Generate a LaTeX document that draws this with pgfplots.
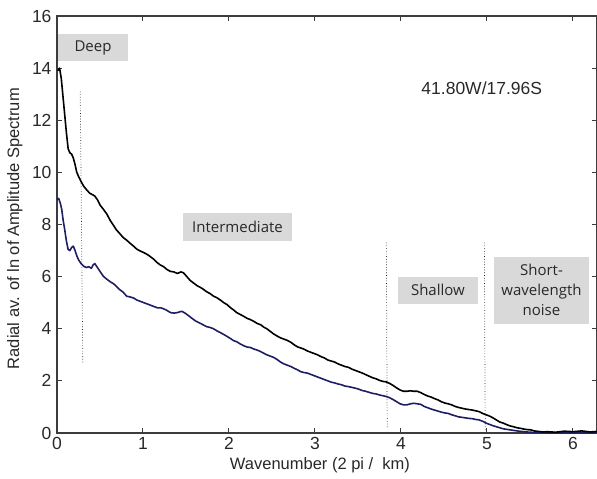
\documentclass[border=0pt]{standalone}
\usepackage{fontspec}
\setmainfont{Liberation Sans}
\newfontfamily\boxfont{Open Sans}
\usepackage{pgfplots}
\pgfplotsset{compat=1.18}
\definecolor{navyline}{RGB}{30,30,100}
\definecolor{boxgray}{RGB}{217,217,217}
\definecolor{axgray}{RGB}{60,60,60}
\definecolor{txtgray}{RGB}{40,40,40}
\begin{document}
\begin{tikzpicture}
\useasboundingbox (-57pt,-46pt) rectangle (540pt,433pt);
\begin{axis}[
  scale only axis,
  width=540pt, height=417pt,
  at={(0pt,0pt)}, anchor=south west,
  xmin=0, xmax=6.28, ymin=0, ymax=16,
  xtick={0,1,2,3,4,5,6},
  ytick={0,2,4,6,8,10,12,14,16},
  tick align=inside,
  major tick length=5pt,
  axis line style={axgray, line width=1.1pt},
  tick style={axgray, line width=1pt},
  /pgf/number format/assume math mode=true,
  tick label style={font=\fontsize{17.5}{20}\selectfont, text=txtgray},
  xticklabel style={yshift=-1pt},
  yticklabel style={xshift=-2pt},
  xlabel={Wavenumber (2 pi /\ \ km)},
  ylabel={Radial av. of ln of Amplitude Spectrum},
  label style={font=\fontsize{16.5}{19}\selectfont, text=txtgray},
  xlabel style={at={(axis description cs:0.487,0)}, anchor=center, yshift=-32pt},
  ylabel style={at={(axis description cs:-0.078,0.49)}, anchor=center},
  clip=false,
]
% dotted dividers
\addplot[dotted, black!85, line width=0.7pt] coordinates {(0.27,13.1) (0.30,2.7)};
\addplot[dotted, black!85, line width=0.7pt] coordinates {(3.83,7.3) (3.84,0.23)};
\addplot[dotted, black!85, line width=0.7pt] coordinates {(4.97,7.3) (4.98,0.1)};
% blue (lower) curve
\addplot[navyline, line width=1.6pt, line join=round] coordinates {
(0.00,8.96)(0.02,9.0)(0.04,8.8)(0.055,8.58)(0.07,8.2)(0.09,7.8)(0.11,7.35)(0.13,7.04)
(0.15,7.0)(0.17,7.12)(0.19,7.17)(0.21,7.0)(0.23,6.8)(0.25,6.65)(0.28,6.5)(0.31,6.4)
(0.34,6.35)(0.37,6.38)(0.40,6.32)(0.42,6.45)(0.44,6.5)(0.47,6.35)(0.50,6.2)(0.54,6.01)
(0.58,5.9)(0.62,5.8)(0.66,5.72)(0.69,5.63)(0.73,5.5)(0.77,5.4)(0.81,5.25)(0.85,5.22)
(0.89,5.18)(0.93,5.1)(0.97,5.05)(1.01,5.0)(1.05,4.95)(1.09,4.9)(1.13,4.85)(1.17,4.8)
(1.21,4.8)(1.25,4.75)(1.28,4.7)(1.32,4.62)(1.36,4.6)(1.40,4.62)(1.45,4.67)(1.49,4.6)
(1.53,4.5)(1.57,4.4)(1.61,4.3)(1.66,4.22)(1.70,4.15)(1.74,4.08)(1.78,4.05)(1.82,4.0)
(1.86,3.92)(1.90,3.85)(1.94,3.78)(1.98,3.7)(2.02,3.62)(2.05,3.55)(2.09,3.5)(2.13,3.42)
(2.17,3.35)(2.21,3.3)(2.25,3.28)(2.29,3.22)(2.33,3.18)(2.37,3.12)(2.41,3.05)(2.44,3.0)
(2.48,2.95)(2.52,2.9)(2.56,2.82)(2.60,2.72)(2.64,2.65)(2.68,2.6)(2.72,2.55)(2.76,2.48)
(2.80,2.42)(2.83,2.36)(2.87,2.32)(2.91,2.3)(2.95,2.25)(2.99,2.2)(3.03,2.15)(3.07,2.1)
(3.11,2.05)(3.15,2.0)(3.19,1.95)(3.23,1.92)(3.27,1.88)(3.31,1.85)(3.35,1.8)(3.39,1.78)
(3.43,1.75)(3.47,1.72)(3.51,1.68)(3.55,1.63)(3.59,1.6)(3.63,1.56)(3.67,1.52)(3.71,1.5)
(3.75,1.46)(3.79,1.43)(3.83,1.4)(3.87,1.35)(3.91,1.28)(3.95,1.2)(3.99,1.12)(4.03,1.08)
(4.07,1.08)(4.11,1.12)(4.15,1.14)(4.19,1.12)(4.23,1.1)(4.27,1.02)(4.31,0.97)(4.35,0.92)
(4.39,0.88)(4.43,0.84)(4.47,0.8)(4.51,0.77)(4.55,0.75)(4.59,0.7)(4.63,0.66)(4.67,0.62)
(4.71,0.6)(4.75,0.58)(4.79,0.56)(4.83,0.55)(4.87,0.52)(4.91,0.5)(4.95,0.45)(4.99,0.38)
(5.03,0.33)(5.07,0.28)(5.11,0.24)(5.15,0.2)(5.19,0.16)(5.23,0.14)(5.27,0.12)(5.31,0.1)
(5.35,0.08)(5.40,0.06)(5.46,0.04)(5.55,0.02)(5.70,0.01)(6.28,0.01)
};
% black (upper) curve
\addplot[black, line width=1.6pt, line join=round] coordinates {
(0.01,13.9)(0.03,14.0)(0.05,13.6)(0.07,12.9)(0.09,12.2)(0.11,11.5)(0.13,10.9)(0.15,10.75)
(0.17,10.7)(0.19,10.55)(0.21,10.3)(0.23,10.0)(0.25,9.85)(0.28,9.65)(0.31,9.47)(0.34,9.35)
(0.38,9.2)(0.41,9.15)(0.44,9.09)(0.47,8.95)(0.50,8.75)(0.54,8.58)(0.58,8.4)(0.62,8.15)
(0.66,7.95)(0.69,7.8)(0.73,7.65)(0.77,7.5)(0.81,7.4)(0.85,7.28)(0.89,7.17)(0.93,7.05)
(0.97,6.98)(1.01,6.92)(1.05,6.85)(1.08,6.78)(1.12,6.68)(1.16,6.55)(1.20,6.45)(1.24,6.38)
(1.28,6.27)(1.32,6.2)(1.36,6.18)(1.40,6.12)(1.44,6.18)(1.47,6.15)(1.51,6.0)(1.55,5.85)
(1.59,5.75)(1.63,5.65)(1.66,5.6)(1.70,5.52)(1.74,5.42)(1.78,5.35)(1.82,5.25)(1.86,5.19)
(1.90,5.1)(1.94,5.0)(1.98,4.92)(2.02,4.8)(2.05,4.73)(2.09,4.62)(2.13,4.55)(2.17,4.48)
(2.21,4.4)(2.25,4.35)(2.29,4.28)(2.33,4.2)(2.37,4.15)(2.41,4.05)(2.44,4.0)(2.48,3.9)
(2.52,3.8)(2.56,3.72)(2.60,3.65)(2.64,3.6)(2.68,3.55)(2.72,3.48)(2.76,3.38)(2.80,3.3)
(2.83,3.27)(2.87,3.22)(2.91,3.15)(2.95,3.1)(2.99,3.05)(3.03,3.0)(3.07,2.93)(3.11,2.88)
(3.15,2.8)(3.19,2.76)(3.23,2.72)(3.27,2.65)(3.31,2.6)(3.35,2.55)(3.39,2.52)(3.43,2.45)
(3.47,2.4)(3.51,2.35)(3.55,2.3)(3.59,2.24)(3.63,2.18)(3.67,2.12)(3.71,2.08)(3.75,2.02)
(3.79,1.98)(3.83,1.96)(3.87,1.9)(3.91,1.82)(3.95,1.73)(3.99,1.65)(4.03,1.6)(4.07,1.6)
(4.11,1.62)(4.15,1.6)(4.19,1.6)(4.23,1.55)(4.27,1.48)(4.31,1.42)(4.35,1.38)(4.39,1.32)
(4.43,1.27)(4.47,1.2)(4.51,1.15)(4.55,1.12)(4.59,1.08)(4.63,1.02)(4.67,0.98)(4.71,0.95)
(4.75,0.92)(4.79,0.9)(4.83,0.88)(4.87,0.85)(4.91,0.82)(4.95,0.75)(4.99,0.7)(5.03,0.65)
(5.07,0.58)(5.11,0.5)(5.15,0.42)(5.19,0.38)(5.23,0.32)(5.27,0.27)(5.31,0.24)(5.35,0.2)
(5.39,0.18)(5.43,0.15)(5.47,0.13)(5.51,0.12)(5.55,0.08)(5.60,0.06)(5.65,0.04)(5.70,0.05)
(5.80,0.03)(5.90,0.07)(6.00,0.05)(6.10,0.08)(6.20,0.04)(6.28,0.06)
};
% region labels
\node[fill=boxgray, minimum width=70pt, minimum height=27pt, inner sep=0pt, font=\boxfont\fontsize{15}{18}\selectfont, text=txtgray] at (axis cs:0.419,14.79) {Deep};
\node[fill=boxgray, minimum width=109pt, minimum height=28pt, inner sep=0pt, font=\boxfont\fontsize{15}{18}\selectfont, text=txtgray] at (axis cs:2.099,7.92) {Intermediate};
\node[fill=boxgray, minimum width=80pt, minimum height=27pt, inner sep=0pt, font=\boxfont\fontsize{15}{18}\selectfont, text=txtgray] at (axis cs:4.43,5.48) {Shallow};
\node[fill=boxgray, minimum width=95pt, minimum height=67pt, inner sep=0pt, align=center, font=\boxfont\fontsize{15}{20}\selectfont, text=txtgray] at (axis cs:5.634,5.48) {Short-\\wavelength\\noise};
\node[font=\fontsize{17.5}{20}\selectfont, text=txtgray] at (axis cs:4.94,13.23) {41.80W/17.96S};
\end{axis}
\end{tikzpicture}
\end{document}
